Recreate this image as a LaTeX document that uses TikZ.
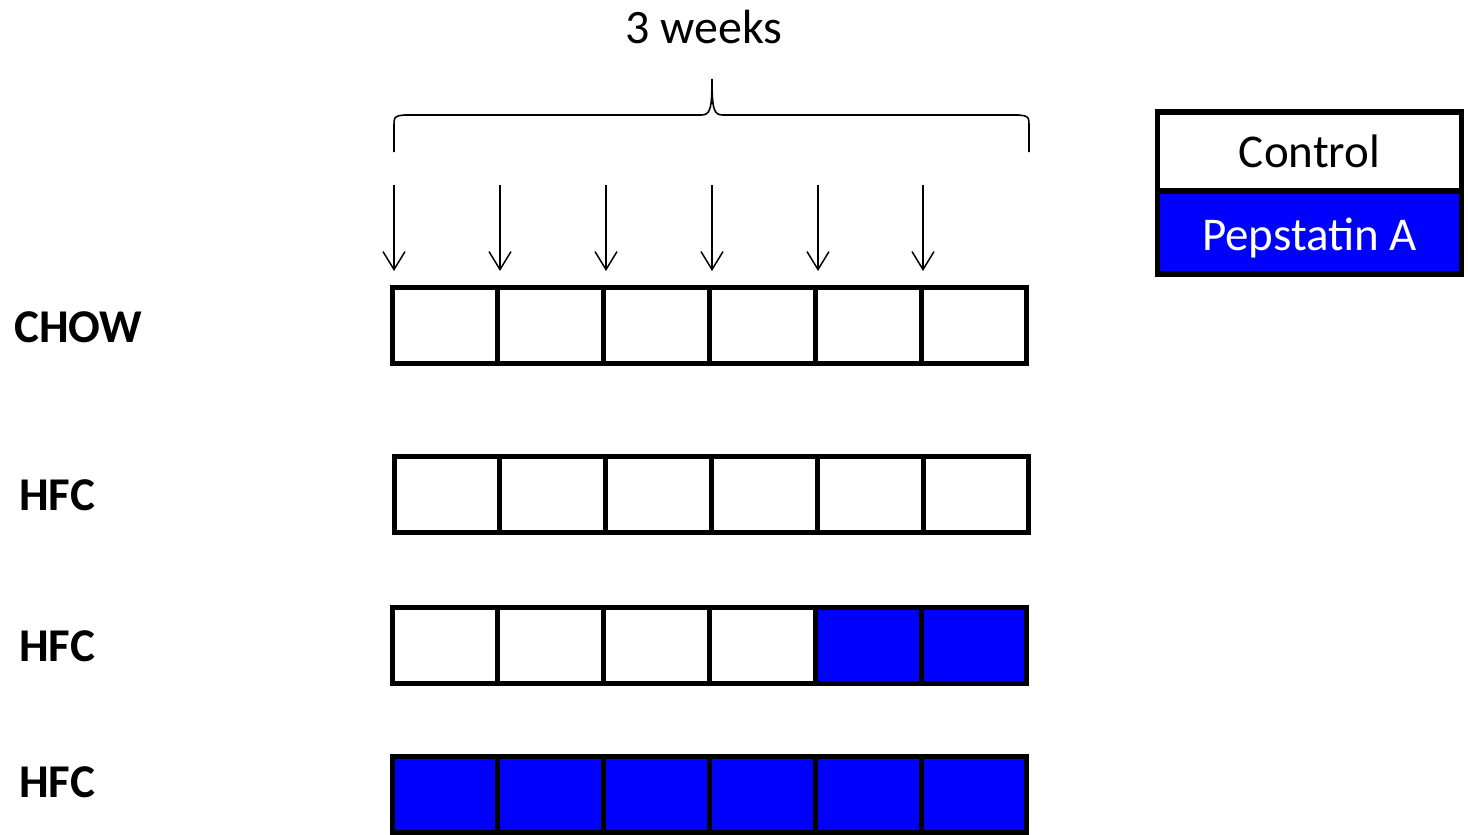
\documentclass[tikz,border=0pt]{standalone}
\usepackage{fontspec}
\setmainfont{Carlito}
\usetikzlibrary{arrows.meta}
\definecolor{pblue}{RGB}{0,0,255}
\begin{document}
\begin{tikzpicture}[x=1pt,y=-1pt,
  cell/.style={draw=black,line width=5pt,minimum width=105.8pt,minimum height=76pt,inner sep=0pt,outer sep=0pt,fill=white},
  bcell/.style={cell,fill=pblue},
  lbl/.style={anchor=west,inner sep=0pt,font=\fontsize{47}{50}\selectfont\bfseries},
  legbox/.style={draw=black,line width=5.5pt,minimum width=304pt,inner sep=0pt,outer sep=0pt,font=\fontsize{47}{50}\selectfont},
  tick/.style={line width=1.5pt,-{Straight Barb[length=18pt,width=22pt,line width=1.5pt]}},
  bracepath/.style={line width=1.6pt}
]
\useasboundingbox (0,0) rectangle (1468,835);
\node[inner sep=0pt,font=\fontsize{48}{50}\selectfont] (weeks) at (704,27) {3 weeks};
% brace
\draw[bracepath] (394,152) -- (394,128) .. controls (394,116) .. (405,115)
  -- (701,115) .. controls (710,115) and (712,110) .. (712,79)
  .. controls (712,110) and (714,115) .. (723,115)
  -- (1018,115) .. controls (1029,116) .. (1029,128) -- (1029,152);
% legend
\node[legbox,fill=white,minimum height=79pt] (ctrl) at (1309.5,151.5) {Control};
\node[legbox,fill=pblue,text=white,minimum height=83pt,text depth=0pt] (pep) at (1309.5,232.5) {\raisebox{-4pt}{Pepstatin A}};
% rows
\foreach \c in {1,...,6}{
  \node[cell] (a\c) at ({392+105.8*(\c-0.5)},325.5) {};
  \node[cell] (b\c) at ({394+105.8*(\c-0.5)},494) {};
  \node[cell] (d\c) at ({392+105.8*(\c-0.5)},794.5) [bcell] {};
}
\foreach \c in {1,...,4}{\node[cell] (c\c) at ({392+105.8*(\c-0.5)},645) {};}
\foreach \c in {5,6}{\node[bcell] (c\c) at ({392+105.8*(\c-0.5)},645) {};}
% arrows
\foreach \c/\x in {1/394,2/500,3/606,4/712,5/818,6/923}{
  \coordinate (s\c) at (\x,185);
  \coordinate (e\c) at (\x,271);
  \draw[tick] (s\c) -- (e\c);
}
% labels
\node[lbl] (chow) at (14,327) {CHOW};
\node[lbl] (hfc1) at (19,495) {HFC};
\node[lbl] (hfc2) at (19,646) {HFC};
\node[lbl] (hfc3) at (19,782) {HFC};
\end{tikzpicture}
\end{document}
